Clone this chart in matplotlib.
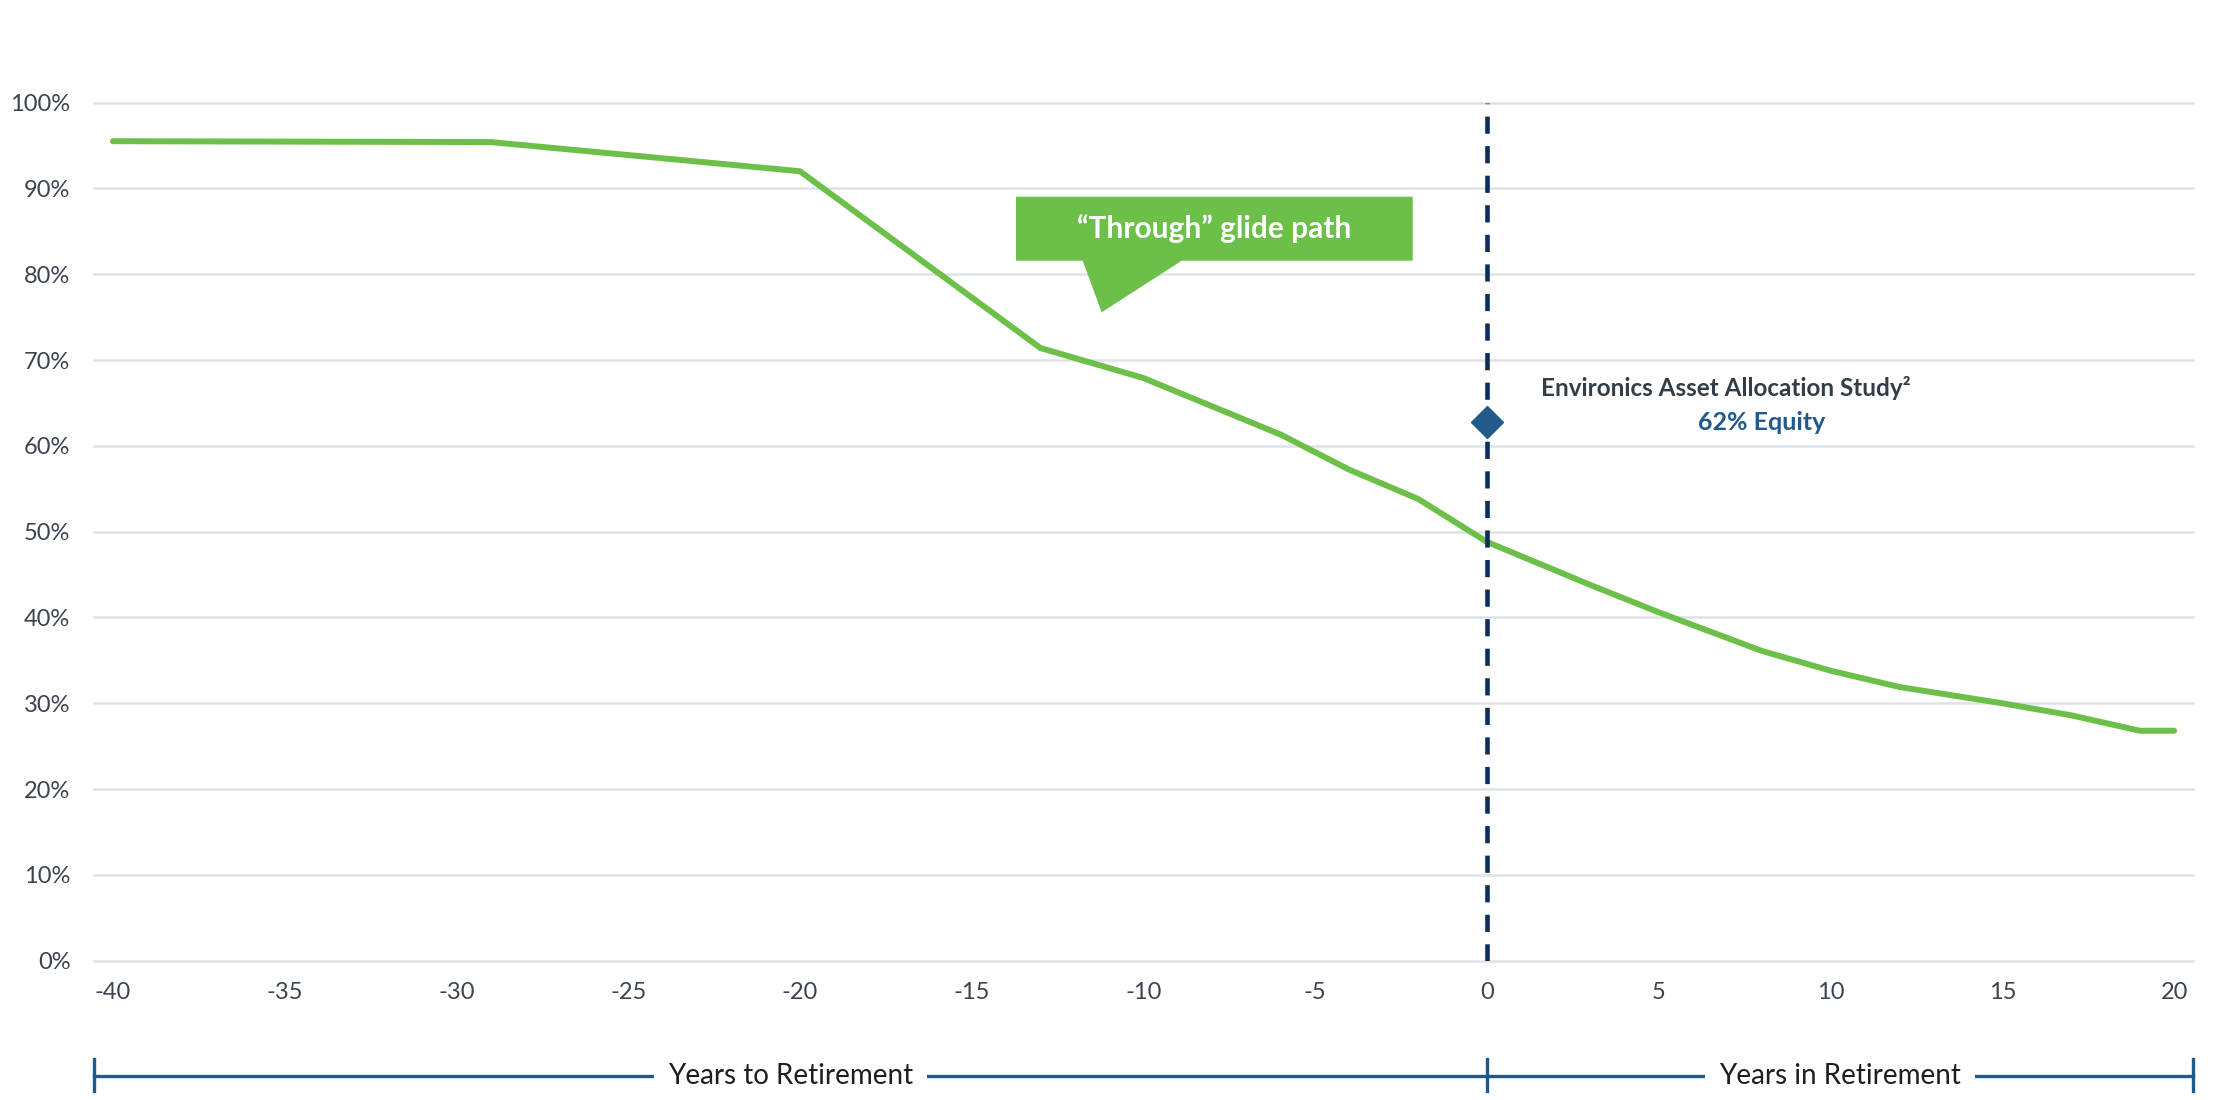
import matplotlib
matplotlib.use('Agg')
import matplotlib.pyplot as plt
from matplotlib.patches import Polygon
from matplotlib.lines import Line2D
import matplotlib.transforms as mtransforms
from matplotlib.ticker import FuncFormatter

# ---- data ----
years = [-40, -29, -20, -13, -10, -6, -4, -2, 0, 3, 5, 8, 10, 12, 15, 17, 19, 20]
equity = [95.5, 95.4, 92.0, 71.4, 67.9, 61.3, 57.2, 53.8, 48.8, 43.8, 40.6, 36.1,
          33.8, 31.9, 30.0, 28.6, 26.8, 26.8]
study_year = [0]
study_equity = [62.8]
x_ticks = list(range(-40, 21, 5))
y_ticks = list(range(0, 101, 10))
callout_text = '\u201cThrough\u201d glide path'
study_title = 'Environics Asset Allocation Study\u00b2'
study_value = '62% Equity'
phase_labels = ['Years to Retirement', 'Years in Retirement']

plt.rcParams['font.family'] = ['Lato', 'DejaVu Sans']
plt.rcParams['axes.unicode_minus'] = False

W, H = 2235, 1100
fig = plt.figure(figsize=(W / 100, H / 100), dpi=100)
fig.patch.set_facecolor('white')

def fx(px):
    return px / W

def fy(py):
    return 1 - py / H

ax = fig.add_axes([fx(94), fy(960.7), (2193 - 94) / W, (960.7 - 102.6) / H])
ax.set_xlim(-40.55, 20.55)
ax.set_ylim(0, 100)
for s in ax.spines.values():
    s.set_visible(False)

ax.set_xticks(x_ticks)
ax.set_yticks(y_ticks)
ax.xaxis.set_major_formatter(FuncFormatter(lambda v, p: f'{int(v)}'))
ax.yaxis.set_major_formatter(FuncFormatter(lambda v, p: f'{int(v)}%'))
ax.yaxis.grid(True, color='#dfe3e7', lw=1.8)
ax.xaxis.grid(False)
ax.set_axisbelow(True)
for gl in ax.get_ygridlines():
    gl.set_clip_on(False)
ax.tick_params(axis='both', length=0, labelsize=17, labelcolor='#3a4450')
ax.tick_params(axis='y', pad=17)
ax.tick_params(axis='x', pad=15)

# glide path
ax.plot(years, equity, color='#6cc04a', lw=4.3, solid_capstyle='round',
        solid_joinstyle='round', zorder=3, clip_on=False)

# retirement line
ax.axvline(0, color='#0c2d5a', lw=3.3, zorder=4, linestyle=(0, (3.75, 2.7)))

# study marker
ax.plot(study_year, study_equity, marker='D', ms=16, color='#225a8a', ls='none',
        zorder=5, clip_on=False)

# study annotation
fig.text(fx(1541), fy(388), study_title, ha='left', va='center', fontsize=17.5,
         fontweight='bold', color='#333d48')
fig.text(fx(1762), fy(423), study_value, ha='center', va='center', fontsize=18,
         fontweight='bold', color='#1f5a8a')

# callout
verts = [(1016, 196.7), (1412.7, 196.7), (1412.7, 260.7), (1181.7, 260.7),
         (1101.7, 312.3), (1082.7, 260.7), (1016, 260.7)]
poly = Polygon([(fx(x), fy(y)) for x, y in verts], closed=True,
               transform=fig.transFigure, facecolor='#6cc04a', edgecolor='none',
               zorder=6)
fig.add_artist(poly)
fig.text(fx(1214), fy(229), callout_text, ha='center', va='center', fontsize=21.5,
         fontweight='bold', color='white', zorder=7)

# phase bracket
bt = mtransforms.blended_transform_factory(ax.transData, fig.transFigure)
x0, x1 = ax.get_xlim()
bc = '#1f5a8a'
fig.add_artist(Line2D([x0, x1], [fy(1076), fy(1076)], transform=bt, color=bc, lw=2.4))
for xv in (x0, 0, x1):
    fig.add_artist(Line2D([xv, xv], [fy(1059), fy(1091)], transform=bt, color=bc, lw=2.4))
for label, xc in zip(phase_labels, [(x0 + 0) / 2, (0 + x1) / 2]):
    fig.text(xc, fy(1076), label, transform=bt, ha='center', va='center',
             fontsize=20, color='#1e1e1e',
             bbox=dict(boxstyle='square,pad=0.5', facecolor='white', edgecolor='none'))

fig.savefig('out.png', dpi=100, facecolor='white')
